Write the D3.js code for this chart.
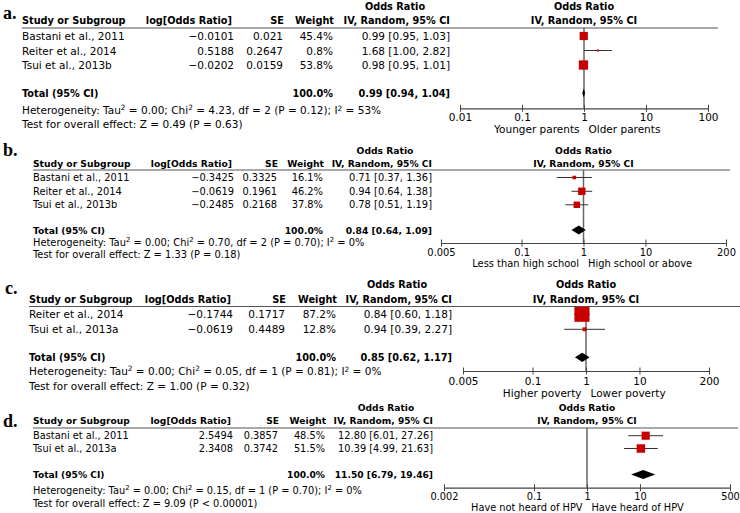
<!DOCTYPE html>
<html>
<head>
<meta charset="utf-8">
<script src="https://cdn.jsdelivr.net/npm/d3@7"></script>
<style>
  body { margin: 0; background: #fff; }
  text { font-family: "DejaVu Sans", sans-serif; fill: #000; }
  .bold { font-weight: bold; font-size: 93%; }
  .plabel { font-family: "Liberation Serif", serif; font-weight: bold; font-size: 18px; }
</style>
</head>
<body>
<div class="chart"></div>
<script>
// ---- data (one entry per panel a-d) ----
var panelLabels = ["a.", "b.", "c.", "d."];
var studies = [
    ["Bastani et al., 2011", "Reiter et al., 2014", "Tsui et al., 2013b"],
    ["Bastani et al., 2011", "Reiter et al., 2014", "Tsui et al., 2013b"],
    ["Reiter et al., 2014", "Tsui et al., 2013a"],
    ["Bastani et al., 2011", "Tsui et al., 2013a"]
];
var logOR = [[-0.0101, 0.5188, -0.0202], [-0.3425, -0.0619, -0.2485], [-0.1744, -0.0619], [2.5494, 2.3408]];
var seVals = [[0.021, 0.2647, 0.0159], [0.3325, 0.1961, 0.2168], [0.1717, 0.4489], [0.3857, 0.3742]];
var weights = [[45.4, 0.8, 53.8], [16.1, 46.2, 37.8], [87.2, 12.8], [48.5, 51.5]];
var oddsRatio = [[0.99, 1.68, 0.98], [0.71, 0.94, 0.78], [0.84, 0.94], [12.80, 10.39]];
var ciLow = [[0.95, 1.00, 0.95], [0.37, 0.64, 0.51], [0.60, 0.39], [6.01, 4.99]];
var ciHigh = [[1.03, 2.82, 1.01], [1.36, 1.38, 1.19], [1.18, 2.27], [27.26, 21.63]];
var totalWeight = [100.0, 100.0, 100.0, 100.0];
var totalOR = [0.99, 0.84, 0.85, 11.50];
var totalLow = [0.94, 0.64, 0.62, 6.79];
var totalHigh = [1.04, 1.09, 1.17, 19.46];
var tau2 = ["0.00", "0.00", "0.00", "0.00"];
var chi2 = ["4.23", "0.70", "0.05", "0.15"];
var dfVals = [2, 2, 1, 1];
var hetP = ["0.12", "0.70", "0.81", "0.70"];
var i2 = [53, 0, 0, 0];
var zVals = ["0.49", "1.33", "1.00", "9.09"];
var zP = ["= 0.63", "= 0.18", "= 0.32", "< 0.00001"];
var axisTicks = [[0.01, 0.1, 1, 10, 100], [0.005, 0.1, 1, 10, 200], [0.005, 0.1, 1, 10, 200], [0.002, 0.1, 1, 10, 500]];
var favoursLeft = ["Younger parents", "Less than high school", "Higher poverty", "Have not heard of HPV"];
var favoursRight = ["Older parents", "High school or above", "Lower poverty", "Have heard of HPV"];

// ---- layout of each panel (positions only) ----
var layout = [
    { fs: 10.5, x0: 22, lineEnd: 718, log: 234, se: 283, w: 333, ci: 450, hdrC: 395,
      yOR: 6, yHdr: 20.5, yLine: 28, rows: [36, 50.5, 65], yTot: 93, yHet: 110, yTest: 123.5,
      range: [460, 708], yAxis: 108.3, yTick: 117.5, yDir: 129, label: [3, 13], sq: 14.3 },
    { fs: 9.9, x0: 33, lineEnd: 730, log: 234, se: 277, w: 323, ci: 432, hdrC: 385,
      yOR: 150, yHdr: 163.5, yLine: 170, rows: [177.5, 191.3, 204.8], yTot: 230, yHet: 242.3, yTest: 254.5,
      range: [441, 726], yAxis: 243, yTick: 252, yDir: 263.5, label: [3, 150], sq: 12.8 },
    { fs: 10.5, x0: 29, lineEnd: 740, log: 233, se: 285, w: 336, ci: 452, hdrC: 397,
      yOR: 284.3, yHdr: 299.3, yLine: 306.5, rows: [314.3, 329.3], yTot: 357.3, yHet: 371, yTest: 386,
      range: [463, 709], yAxis: 371, yTick: 380.7, yDir: 393, label: [5, 288], sq: 16.6 },
    { fs: 9.8, x0: 33, lineEnd: 738, log: 233, se: 278, w: 325, ci: 433, hdrC: 386,
      yOR: 407.7, yHdr: 421, yLine: 428, rows: [435.7, 448.5], yTot: 474.5, yHet: 490, yTest: 503.5,
      range: [444, 730], yAxis: 487.7, yTick: 496.5, yDir: 507, label: [3, 421], sq: 13.5 }
];

var svgWidth = 740;
var svgHeight = 513;

var svg = d3.select(".chart")
    .append("svg")
    .attr("width", svgWidth)
    .attr("height", svgHeight);

function signed(v) {
    return (v < 0 ? "\u2212" : "") + Math.abs(v);
}
function ciText(or, lo, hi) {
    return or.toFixed(2) + " [" + lo.toFixed(2) + ", " + hi.toFixed(2) + "]";
}

function addText(g, x, y, str, anchor, cls) {
    return g.append("text")
        .attr("x", x)
        .attr("y", y)
        .attr("dominant-baseline", "central")
        .attr("text-anchor", anchor || "start")
        .attr("class", cls || null)
        .text(str);
}

// text with superscript "2"s
function addSupText(g, x, y, parts) {
    var t = g.append("text")
        .attr("x", x)
        .attr("y", y)
        .attr("dominant-baseline", "central");
    parts.forEach(function(p, i) {
        var sp = t.append("tspan").text(p);
        if (i % 2 === 1) {
            sp.attr("dy", "-0.35em").style("font-size", "70%");
        } else if (i > 0) {
            sp.attr("dy", "0.25em");
        }
    });
}

layout.forEach(function(L, p) {
    var g = svg.append("g").style("font-size", L.fs + "px");

    // panel label
    g.append("text")
        .attr("x", L.label[0])
        .attr("y", L.label[1])
        .attr("dominant-baseline", "central")
        .attr("class", "plabel")
        .text(panelLabels[p]);

    // table header
    addText(g, L.hdrC, L.yOR, "Odds Ratio", "middle", "bold");
    addText(g, L.x0, L.yHdr, "Study or Subgroup", "start", "bold");
    addText(g, L.log - 2, L.yHdr, "log[Odds Ratio]", "end", "bold");
    addText(g, L.se + 1, L.yHdr, "SE", "end", "bold");
    addText(g, L.w + 1, L.yHdr, "Weight", "end", "bold");
    addText(g, L.ci, L.yHdr, "IV, Random, 95% CI", "end", "bold");

    g.append("line")
        .attr("x1", L.x0).attr("x2", L.lineEnd)
        .attr("y1", L.yLine).attr("y2", L.yLine)
        .attr("stroke", "#555")
        .attr("stroke-width", 1.2);

    // study rows
    studies[p].forEach(function(name, i) {
        var y = L.rows[i];
        addText(g, L.x0, y, name);
        addText(g, L.log, y, signed(logOR[p][i]), "end");
        addText(g, L.se, y, String(seVals[p][i]), "end");
        addText(g, L.w, y, weights[p][i].toFixed(1) + "%", "end");
        addText(g, L.ci, y, ciText(oddsRatio[p][i], ciLow[p][i], ciHigh[p][i]), "end");
    });

    // total row
    addText(g, L.x0, L.yTot, "Total (95% CI)", "start", "bold");
    addText(g, L.w, L.yTot, totalWeight[p].toFixed(1) + "%", "end", "bold");
    addText(g, L.ci, L.yTot, ciText(totalOR[p], totalLow[p], totalHigh[p]), "end", "bold");

    addSupText(g, L.x0, L.yHet, [
        "Heterogeneity: Tau", "2", " = " + tau2[p] + "; Chi", "2",
        " = " + chi2[p] + ", df = " + dfVals[p] + " (P = " + hetP[p] + "); I", "2",
        " = " + i2[p] + "%"
    ]);
    addText(g, L.x0, L.yTest, "Test for overall effect: Z = " + zVals[p] + " (P " + zP[p] + ")");

    // forest plot
    var xScale = d3.scaleLog().domain(d3.extent(axisTicks[p])).range(L.range);
    var sizeScale = d3.scalePow().exponent(0.7).domain([0, 100]).range([0, L.sq]);
    var x1 = xScale(1);

    addText(g, x1, L.yOR, "Odds Ratio", "middle", "bold");
    addText(g, x1, L.yHdr, "IV, Random, 95% CI", "middle", "bold");

    g.append("line")
        .attr("x1", x1).attr("x2", x1)
        .attr("y1", L.yLine).attr("y2", L.yAxis)
        .attr("stroke", "#666")
        .attr("stroke-width", 1.5);

    // confidence intervals
    g.selectAll(".ci")
        .data(studies[p])
        .enter()
        .append("line")
        .attr("x1", function(d, i) { return xScale(ciLow[p][i]); })
        .attr("x2", function(d, i) { return xScale(ciHigh[p][i]); })
        .attr("y1", function(d, i) { return L.rows[i]; })
        .attr("y2", function(d, i) { return L.rows[i]; })
        .attr("stroke", "#333")
        .attr("stroke-width", 1);

    // weighted squares
    g.selectAll(".sq")
        .data(studies[p])
        .enter()
        .append("rect")
        .attr("x", function(d, i) { return xScale(oddsRatio[p][i]) - Math.max(2, sizeScale(weights[p][i])) / 2; })
        .attr("y", function(d, i) { return L.rows[i] - Math.max(2, sizeScale(weights[p][i])) / 2; })
        .attr("width", function(d, i) { return Math.max(2, sizeScale(weights[p][i])); })
        .attr("height", function(d, i) { return Math.max(2, sizeScale(weights[p][i])); })
        .attr("fill", "#c80000");

    // pooled diamond
    var dy = 4.6;
    g.append("path")
        .attr("d", "M" + xScale(totalLow[p]) + "," + L.yTot +
            "L" + xScale(totalOR[p]) + "," + (L.yTot - dy) +
            "L" + xScale(totalHigh[p]) + "," + L.yTot +
            "L" + xScale(totalOR[p]) + "," + (L.yTot + dy) + "Z")
        .attr("fill", "#000");

    // axis
    var axis = d3.axisBottom(xScale)
        .tickValues(axisTicks[p])
        .tickFormat(function(d) { return String(d); })
        .tickSizeOuter(0);

    var ax = g.append("g")
        .attr("transform", "translate(0," + L.yAxis + ")")
        .call(axis)
        .attr("font-family", null)
        .attr("font-size", null);
    ax.select(".domain").attr("stroke", "#444").attr("stroke-width", 1.2);
    ax.selectAll(".tick line").attr("stroke", "#444").attr("y1", -3.5).attr("y2", 3.5);
    ax.selectAll(".tick text")
        .attr("y", L.yTick - L.yAxis)
        .attr("dy", null)
        .attr("dominant-baseline", "central");

    addText(g, x1 - 4.5, L.yDir, favoursLeft[p], "end");
    addText(g, x1 + 4.5, L.yDir, favoursRight[p], "start");
});
</script>
</body>
</html>
